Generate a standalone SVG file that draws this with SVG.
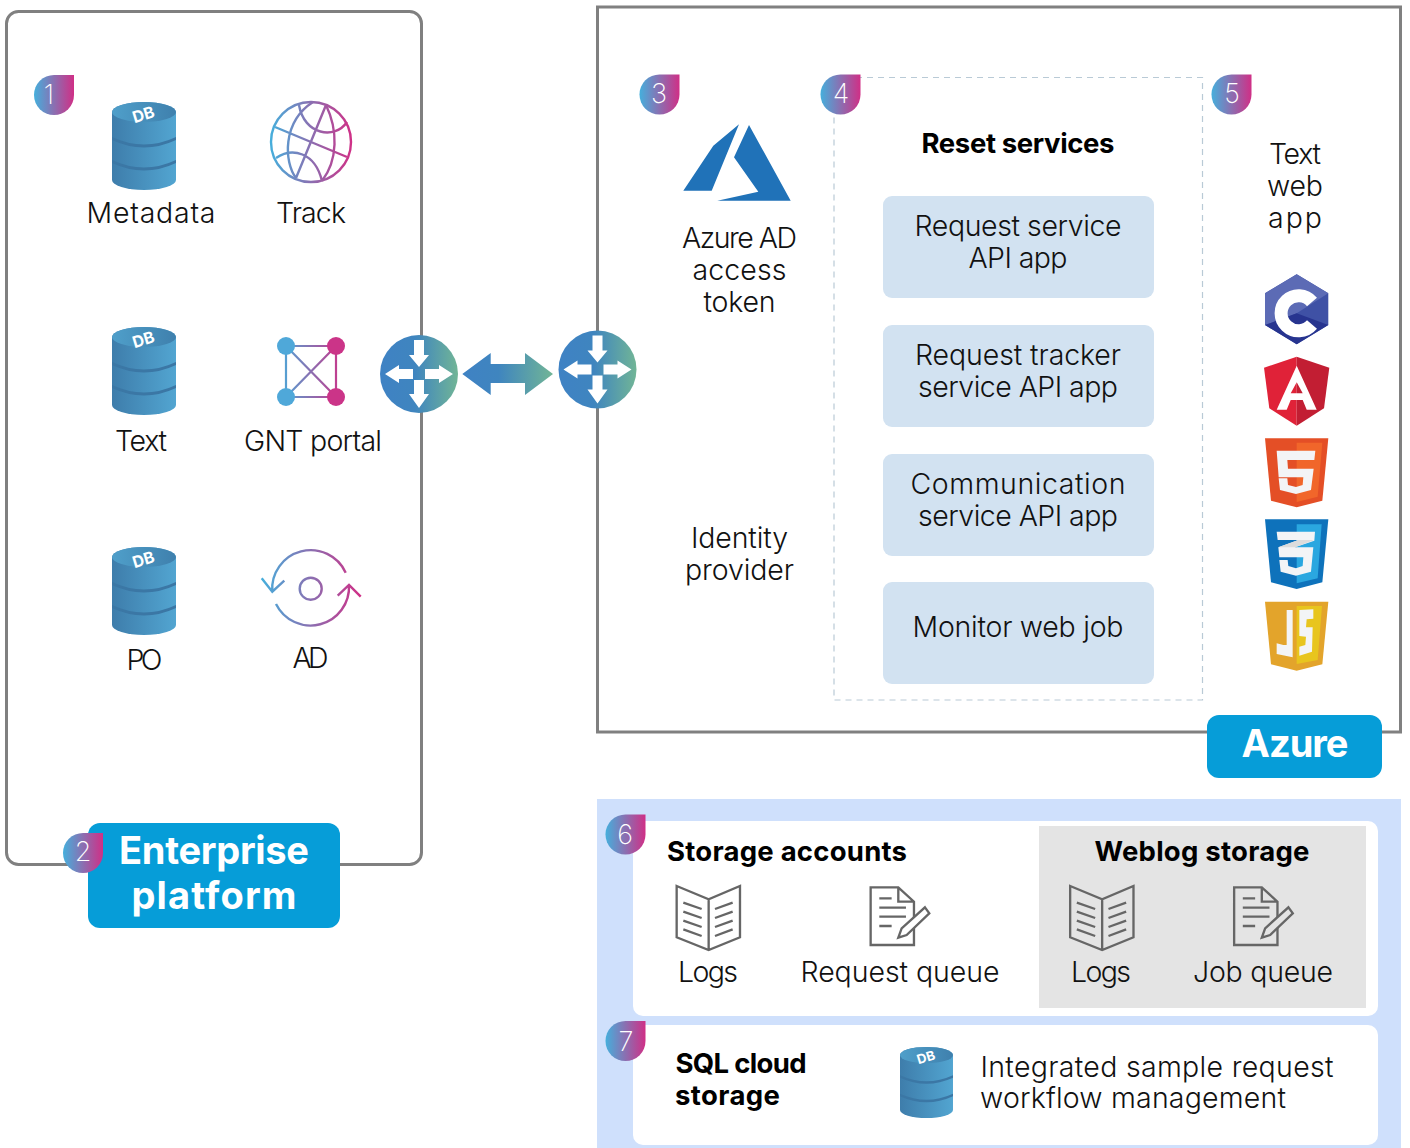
<svg xmlns="http://www.w3.org/2000/svg" width="1410" height="1148" viewBox="0 0 1410 1148">
<style>
text{font-family:"Inter","Liberation Sans",sans-serif;text-anchor:middle;fill:#111}
.t{font-size:28.500px;font-weight:300;transform:translateY(1px)}
.b{font-size:27.500px;font-weight:700;fill:#000}
.h{font-size:38px;font-weight:700;fill:#fff}
.n{font-size:27px;font-weight:200;fill:#fff}
.grad{fill:none;stroke-width:2.400}
.ic{fill:none;stroke:#666;stroke-width:2.400}
.ar{fill:#fff}
</style>
<defs>
<linearGradient id="bg"><stop offset="0" stop-color="#45afdc"/><stop offset="1" stop-color="#d02f86"/></linearGradient>
<linearGradient id="rg"><stop offset="0" stop-color="#3f82c4"/><stop offset=".45" stop-color="#3f85bf"/><stop offset="1" stop-color="#71b596"/></linearGradient>
<linearGradient id="db1"><stop offset="0" stop-color="#3e7dab"/><stop offset="1" stop-color="#52a5d1"/></linearGradient>
<linearGradient id="db2"><stop offset="0" stop-color="#4f9fca"/><stop offset="1" stop-color="#3f80ad"/></linearGradient>
<linearGradient id="gl" gradientUnits="userSpaceOnUse" x1="270" y1="0" x2="352" y2="0"><stop offset="0" stop-color="#45afdc"/><stop offset="1" stop-color="#d02f86"/></linearGradient>
<linearGradient id="ne" gradientUnits="userSpaceOnUse" x1="277" y1="0" x2="345" y2="0"><stop offset="0" stop-color="#45afdc"/><stop offset="1" stop-color="#d02f86"/></linearGradient>
<linearGradient id="re" gradientUnits="userSpaceOnUse" x1="261" y1="0" x2="361" y2="0"><stop offset="0" stop-color="#45afdc"/><stop offset="1" stop-color="#d02f86"/></linearGradient>
<path id="badge" d="M0-20H20V0A20 20 0 1 1 0-20Z" fill="url(#bg)"/>
<g id="db">
<path d="M0 10A32 10 0 0 1 64 10V78A32 10 0 0 1 0 78Z" fill="url(#db1)"/>
<ellipse cx="32" cy="10" rx="32" ry="10" fill="url(#db2)"/>
<path d="M0 35Q32 50 64 35V38Q32 53 0 38Z" fill="#3b77a5"/>
<path d="M0 58Q32 73 64 58V61Q32 76 0 61Z" fill="#3b77a5"/>
<text transform="translate(33 18) rotate(-17)" style="font-size:16px;font-weight:700;fill:#fff">DB</text>
</g>
<g id="router">
<circle r="39" fill="url(#rg)"/>
<path class="ar" d="M-5-34H5V-19H10L0-7L-10-19H-5Z"/>
<path class="ar" d="M-5 6H5V20H10L0 34L-10 20H-5Z"/>
<path class="ar" d="M-6-5V5H-20V9L-34 0L-20-9V-5Z"/>
<path class="ar" d="M6-5V5H20V9L34 0L20-9V-5Z"/>
</g>
<g id="book" transform="translate(600 810) scale(.3333)" class="ic" style="stroke-width:7">
<path d="M230 228L326 268L420 228V382L326 420L230 382ZM326 268V420"/>
<path d="M250 278L305 297M250 305L305 324M250 332L305 351M250 358L305 378M345 297L398 278M345 324L398 305M345 351L398 332M345 378L398 358"/>
</g>
<g id="doc" transform="translate(600 810) scale(.3333)" class="ic" style="stroke-width:7">
<path d="M812 232H895L942 275V405H812ZM895 232V275H942"/>
<path d="M838 265H875M838 293H918M838 320H918M838 348H875"/>
</g>
<path id="pen" transform="translate(600 810) scale(.3333)" stroke="#666" stroke-width="7" d="M975 292L988 310L920 375L895 383L905 355Z"/>
</defs>

<g id="enterprise-frame"><rect x="6.500" y="11.500" width="415" height="853" rx="12" fill="#fff" stroke="#808080" stroke-width="3"/></g>
<g id="azure-frame"><rect x="597.500" y="7" width="803" height="725" fill="#fff" stroke="#808080" stroke-width="3"/></g>
<g id="reset-frame"><rect x="834" y="77.500" width="368.500" height="622.500" fill="none" stroke="#b9cad6" stroke-width="1.200" stroke-dasharray="6 5"/></g>

<g id="node-metadata"><use href="#db" x="112" y="102"/><text class="t" x="151" y="222" textLength="129">Metadata</text></g>
<g id="node-track">
<g class="grad" style="stroke:url(#gl)">
<circle cx="311" cy="142" r="40"/>
<path d="M275 127L347 157M326 105L296 178M299 105C304 135 335 140 347 122M276 158C292 147 315 152 322 181M313 102C282 122 284 162 296 178M326 105C338 130 338 160 322 181"/>
</g>
<text class="t" x="311" y="222" textLength="70">Track</text></g>
<g id="node-text"><use href="#db" x="112" y="327"/><text class="t" x="141" y="450" textLength="52">Text</text></g>
<g id="node-gnt">
<path d="M286 346H336V397H286ZM286 346L336 397M336 346L286 397" fill="none" stroke="url(#ne)" stroke-width="2.200"/>
<circle cx="286" cy="346" r="9" fill="#4fa8d9"/><circle cx="336" cy="346" r="9" fill="#cb3488"/><circle cx="286" cy="397" r="9" fill="#4fa8d9"/><circle cx="336" cy="397" r="9" fill="#cb3488"/>
<text class="t" x="313" y="450" textLength="138">GNT portal</text></g>
<g id="node-po"><use href="#db" x="112" y="547"/><text class="t" x="144.500" y="669" textLength="36">PO</text></g>
<g id="node-ad">
<g class="grad" style="stroke:url(#re)">
<circle cx="310.700" cy="588.700" r="11"/>
<path d="M345.700 572.700A38.500 38.500 0 0 0 272.300 591.700M261.700 578.300L272.300 591.700L284.300 580.700M276 604A38.500 38.500 0 0 0 349 585M337.700 595.700L349 585L360.700 596.700"/>
</g>
<text class="t" x="310.500" y="667" textLength="36">AD</text></g>

<g id="connectors">
<defs><linearGradient id="ag" gradientUnits="userSpaceOnUse" x1="462" y1="0" x2="553" y2="0"><stop offset="0" stop-color="#3f82c4"/><stop offset=".4" stop-color="#3f85bf"/><stop offset="1" stop-color="#71b596"/></linearGradient></defs>
<path d="M462.300 374L490.700 353V364H525V353L553 374L525 395V383H490.700V395Z" fill="url(#ag)"/>
</g>
<g id="router-left"><use href="#router" x="419" y="374"/></g>
<g id="router-right"><use href="#router" x="597.500" y="369.500"/></g>

<g id="node-azure-ad">
<path d="M739 124.300L713.300 145.700L683.300 190.700H711.700ZM749 125L790.700 200.700H717.300L758.300 191.700L734 157.300Z" fill="#2072b8"/>
<text class="t" x="739.500" y="247" textLength="115">Azure AD</text><text class="t" x="739.500" y="279" textLength="94">access</text><text class="t" x="739.500" y="311" textLength="72">token</text></g>
<g id="node-identity"><text class="t" x="739.500" y="547" textLength="97">Identity</text><text class="t" x="739.500" y="579" textLength="109">provider</text></g>
<g id="node-reset-title"><text class="b" x="1018" y="153" textLength="193">Reset services</text></g>
<g id="node-request-service"><rect x="883" y="196" width="271" height="102" rx="9" fill="#d2e2f1"/><text class="t" x="1018" y="235" textLength="207">Request service</text><text class="t" x="1018" y="267" textLength="99">API app</text></g>
<g id="node-request-tracker"><rect x="883" y="325" width="271" height="102" rx="9" fill="#d2e2f1"/><text class="t" x="1018" y="364" textLength="206">Request tracker</text><text class="t" x="1018" y="396" textLength="200">service API app</text></g>
<g id="node-communication"><rect x="883" y="454" width="271" height="102" rx="9" fill="#d2e2f1"/><text class="t" x="1018" y="493" textLength="215">Communication</text><text class="t" x="1018" y="525" textLength="200">service API app</text></g>
<g id="node-monitor"><rect x="883" y="582" width="271" height="102" rx="9" fill="#d2e2f1"/><text class="t" x="1018" y="636" textLength="211">Monitor web job</text></g>
<g id="node-web-app"><text class="t" x="1295" y="163" textLength="52">Text</text><text class="t" x="1295" y="195" textLength="56">web</text><text class="t" x="1295" y="227" textLength="54">app</text></g>

<g id="icon-csharp">
<path d="M1296.700 274.300L1328.300 293.300V325L1296.700 344.300L1265 325V293.300Z" fill="#3f51a5"/>
<path d="M1296.700 274.300L1328.300 293.300L1296.700 313.300L1265 325V293.300Z" fill="#5c6bb5"/>
<path d="M1265 325L1296.700 313.300L1328.300 325L1296.700 344.300Z" fill="#27348f"/>
<path d="M1312 302A17.500 17.500 0 1 0 1312 324.500" fill="none" stroke="#fff" stroke-width="13"/>
</g>
<g id="icon-angular">
<path d="M1296.700 356.700L1264 367.700L1269.300 408.300L1296.700 425.700Z" fill="#e02238"/>
<path d="M1296.700 356.700L1329.300 367.700L1324 408.300L1296.700 425.700Z" fill="#c21e33"/>
<path fill-rule="evenodd" fill="#fff" d="M1296.700 365.700L1276.700 409.700H1286.700L1290.700 400H1302.700L1306.700 409.700H1316.700ZM1296.700 382.300L1302.700 393.300H1290.700Z"/>
</g>
<g id="icon-html5" transform="translate(1250 430) scale(.3333)">
<path d="M45 25H235L217 212L140 232L63 212Z" fill="#e44f26"/><path d="M140 38H217L203 200L140 216Z" fill="#f1662a"/>
<path d="M80 62H196L193 90H112L114 116H191L183 180L138 192L90 180L86 145H112L114 165L138 171L158 165L160 142H86Z" fill="#f3f4f6"/>
</g>
<g id="icon-css3" transform="translate(1250 430) scale(.3333)">
<path d="M45 268H235L217 457L140 477L63 457Z" fill="#0e72bb"/><path d="M140 283H215L203 445L140 460Z" fill="#2aa7e0"/>
<path d="M80 305H195L193 332L135 352H190L183 425L138 437L92 425L88 390H113L115 408L138 415L158 408L160 382H88L85 352L145 330H83Z" fill="#f3f4f6"/>
<path d="M85 352L145 330H193L135 352Z" fill="#dcdcdc"/>
</g>
<g id="icon-js" transform="translate(1250 430) scale(.3333)">
<path d="M45 515H235L217 703L140 722L63 703Z" fill="#e3a42b"/><path d="M140 528H216L203 690L140 702Z" fill="#e8c51e"/>
<path d="M110 540H128V682L80 672V640L100 645H110ZM148 540L190 538V566L170 568L168 592H188L186 665L148 677V650L166 645L168 620L148 618Z" fill="#f3f4f6"/>
</g>

<g id="node-azure-label"><rect x="1207" y="715" width="175" height="63" rx="12" fill="#069dd8"/><text class="h" x="1295" y="757" textLength="107">Azure</text></g>
<g id="node-enterprise-label"><rect x="88" y="823" width="252" height="105" rx="12" fill="#069dd8"/><text class="h" x="214" y="864" textLength="190">Enterprise</text><text class="h" x="214" y="909" textLength="165">platform</text></g>

<g id="storage-panel"><rect x="597" y="799" width="804" height="349" fill="#cfe0fc"/></g>
<g id="node-storage-accounts"><rect x="633" y="821" width="745" height="195" rx="10" fill="#fff"/>
<text class="b" x="787" y="861" textLength="240">Storage accounts</text>
<use href="#book"/><text class="t" x="708" y="981" textLength="60">Logs</text>
<use href="#doc"/><use href="#pen" fill="#fff"/><text class="t" x="900" y="981" textLength="199">Request queue</text></g>
<g id="node-weblog"><rect x="1039" y="826" width="327" height="182" fill="#e4e4e4"/>
<text class="b" x="1202" y="861" textLength="215">Weblog storage</text>
<use href="#book" x="393.500"/><text class="t" x="1101" y="981" textLength="60">Logs</text>
<use href="#doc" x="363.500"/><use href="#pen" x="363.500" fill="#e4e4e4"/><text class="t" x="1263" y="981" textLength="140">Job queue</text></g>
<g id="node-sql"><rect x="633" y="1025" width="745" height="120" rx="10" fill="#fff"/>
<text class="b" x="741" y="1073" textLength="131">SQL cloud</text><text class="b" x="727.500" y="1105" textLength="105">storage</text>
<use href="#db" transform="translate(900 1047) scale(.828 .807)"/>
<text class="t" x="1157" y="1076" textLength="353">Integrated sample request</text><text class="t" x="1133" y="1107" textLength="306">workflow management</text></g>

<g id="badge-1"><use href="#badge" x="54" y="95"/><text class="n" x="49" y="104">1</text></g>
<g id="badge-2"><use href="#badge" x="83" y="853"/><text class="n" x="83" y="861">2</text></g>
<g id="badge-3"><use href="#badge" x="659.500" y="94.500"/><text class="n" x="659" y="103">3</text></g>
<g id="badge-4"><use href="#badge" x="840.500" y="94.500"/><text class="n" x="841" y="103">4</text></g>
<g id="badge-5"><use href="#badge" x="1231.500" y="94.500"/><text class="n" x="1232" y="103">5</text></g>
<g id="badge-6"><use href="#badge" x="625.500" y="834.500"/><text class="n" x="625" y="844">6</text></g>
<g id="badge-7"><use href="#badge" x="625.500" y="1041"/><text class="n" x="626" y="1051">7</text></g>
</svg>
